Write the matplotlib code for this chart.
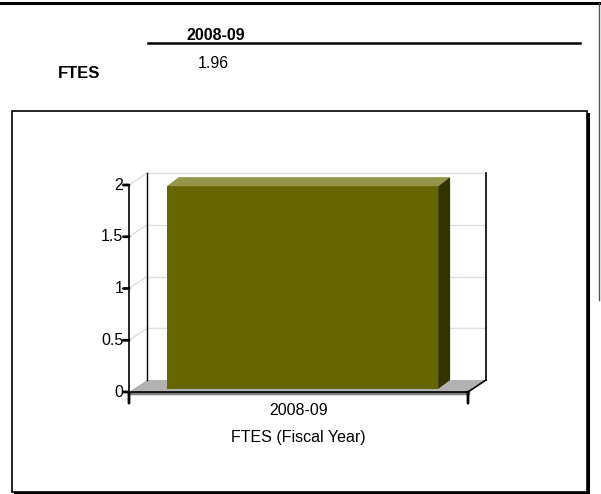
import matplotlib
matplotlib.use('Agg')
import matplotlib.pyplot as plt
from matplotlib.patches import Rectangle, Polygon
from matplotlib.lines import Line2D
from matplotlib.transforms import offset_copy

plt.rcParams['font.family'] = ['Liberation Sans', 'DejaVu Sans']

# data
years = ['2008-09']
ftes = [1.96]
row_label = 'FTES'
x_title = 'FTES (Fiscal Year)'
y_ticks = [0, 0.5, 1, 1.5, 2]
y_tick_labels = ['0', '0.5', '1', '1.5', '2']

W, H = 601, 494
fig = plt.figure(figsize=(W / 100, H / 100), dpi=100)

def fx(px):
    return px / W

def fy(py):
    return 1 - py / H

# outer frame (top + right), table header
fig.add_artist(Line2D([0, 1], [fy(3), fy(3)], color='black', lw=2.2))
fig.add_artist(Line2D([fx(599), fx(599)], [fy(3), fy(300)], color='#555555', lw=1))
fig.add_artist(Line2D([fx(148), fx(580)], [fy(43.5), fy(43.5)], color='black', lw=1.8))
fig.text(fx(216), fy(36), years[0], ha='center', va='center', fontsize=11.5, fontweight='bold')
fig.text(fx(79), fy(74), row_label, ha='center', va='center', fontsize=12, fontweight='bold')
fig.text(fx(213), fy(63), f'{ftes[0]:.2f}', ha='center', va='center', fontsize=11.5)

# chart box with shadow
fig.add_artist(Rectangle((fx(14), fy(494)), fx(576), fy(113) - fy(494), transform=fig.transFigure,
                         facecolor='black', edgecolor='none', zorder=-2))
fig.add_artist(Rectangle((fx(12), fy(492)), fx(575), fy(111) - fy(492), transform=fig.transFigure,
                         facecolor='white', edgecolor='black', lw=1.2, zorder=-1))

# plot area (front plane)
left, right, top, bottom = 129, 468, 185, 392
ax = fig.add_axes([fx(left), fy(bottom), fx(right - left), fy(top) - fy(bottom)])
ax.set_zorder(5)
ax.set_xlim(-0.5, 0.5)
ax.set_ylim(0, 2)
ax.axis('off')

wall = offset_copy(ax.transData, fig=fig, x=18, y=12, units='dots')
bar_front = offset_copy(ax.transData, fig=fig, x=4, y=3, units='dots')

x0, x1 = ax.get_xlim()
ymax = ax.get_ylim()[1]

# shift a data point by some pixels (depth direction)
def shifted(x, y, dx, dy):
    p = ax.transData.transform((x, y))
    return tuple(ax.transData.inverted().transform((p[0] + dx, p[1] + dy)))

# floor
floor = [(x0, 0), (x1, 0), shifted(x1, 0, 18, 12), shifted(x0, 0, 18, 12)]
ax.add_patch(Polygon(floor, closed=True, facecolor='#b2b2b2', edgecolor='none', clip_on=False, zorder=1))
ax.plot([x0, x1], [0, 0], color='#7f7f7f', lw=2.5, clip_on=False, zorder=2,
        transform=offset_copy(ax.transData, fig=fig, x=0, y=-1, units='dots'))

# back wall grid and side-wall diagonals
for yt in y_ticks[1:]:
    ax.plot([x0, x1], [yt, yt], color='#dddddd', lw=1, transform=wall, clip_on=False, zorder=1)
    p1 = shifted(x0, yt, 18, 12)
    ax.plot([x0, p1[0]], [yt, p1[1]], color='#dddddd', lw=1, clip_on=False, zorder=1)
ax.plot([x0, x0], [0, ymax], color='black', lw=1, transform=wall, clip_on=False, zorder=1)
ax.plot([x1, x1], [0, ymax], color='black', lw=1.2, transform=wall, clip_on=False, zorder=1)

# bar: front face, top and side
bw = 0.8
for xi, v in enumerate(ftes):
    xl, xr = xi - bw / 2, xi + bw / 2
    ax.bar([xi], [v], width=bw, color='#666600', edgecolor='none', transform=bar_front,
           clip_on=False, zorder=4)
    fl, fr = shifted(xl, v, 4, 3), shifted(xr, v, 4, 3)
    bl, br = shifted(xl, v, 16, 12), shifted(xr, v, 16, 12)
    ax.add_patch(Polygon([fl, fr, br, bl], closed=True, facecolor='#95954a', edgecolor='none',
                         clip_on=False, zorder=4))
    fr0, br0 = shifted(xr, 0, 4, 3), shifted(xr, 0, 16, 12)
    ax.add_patch(Polygon([fr0, fr, br, br0], closed=True, facecolor='#333300', edgecolor='none',
                         clip_on=False, zorder=4))

# front axes
ax.plot([x0, x0], [0, ymax], color='black', lw=1.2, clip_on=False, zorder=5)
ax.plot([x0, x1], [0, 0], color='black', lw=1.2, clip_on=False, zorder=5)
rb = shifted(x1, 0, 18, 12)
ax.plot([x1, rb[0]], [0, rb[1]], color='black', lw=1.2, clip_on=False, zorder=5)
for yt, lab in zip(y_ticks, y_tick_labels):
    ax.annotate('', xy=(x0, yt), xytext=(-4, 0), textcoords='offset points',
                arrowprops=dict(arrowstyle='-', color='black', lw=2, shrinkA=0, shrinkB=0))
    ax.annotate(lab, xy=(x0, yt), xytext=(-4, 0), textcoords='offset points',
                ha='right', va='center', fontsize=11.5)
for xt in [x0, x1]:
    ax.annotate('', xy=(xt, 0), xytext=(0, -8), textcoords='offset points',
                arrowprops=dict(arrowstyle='-', color='black', lw=2, shrinkA=0, shrinkB=0))

# category and axis title
for xi, lab in enumerate(years):
    ax.annotate(lab, xy=(xi, 0), xytext=(0, -13.5), textcoords='offset points',
                ha='center', va='center', fontsize=11.5)
ax.annotate(x_title, xy=(0, 0), xytext=(0, -33), textcoords='offset points',
            ha='center', va='center', fontsize=11.5)

fig.savefig('out.png', dpi=100)
